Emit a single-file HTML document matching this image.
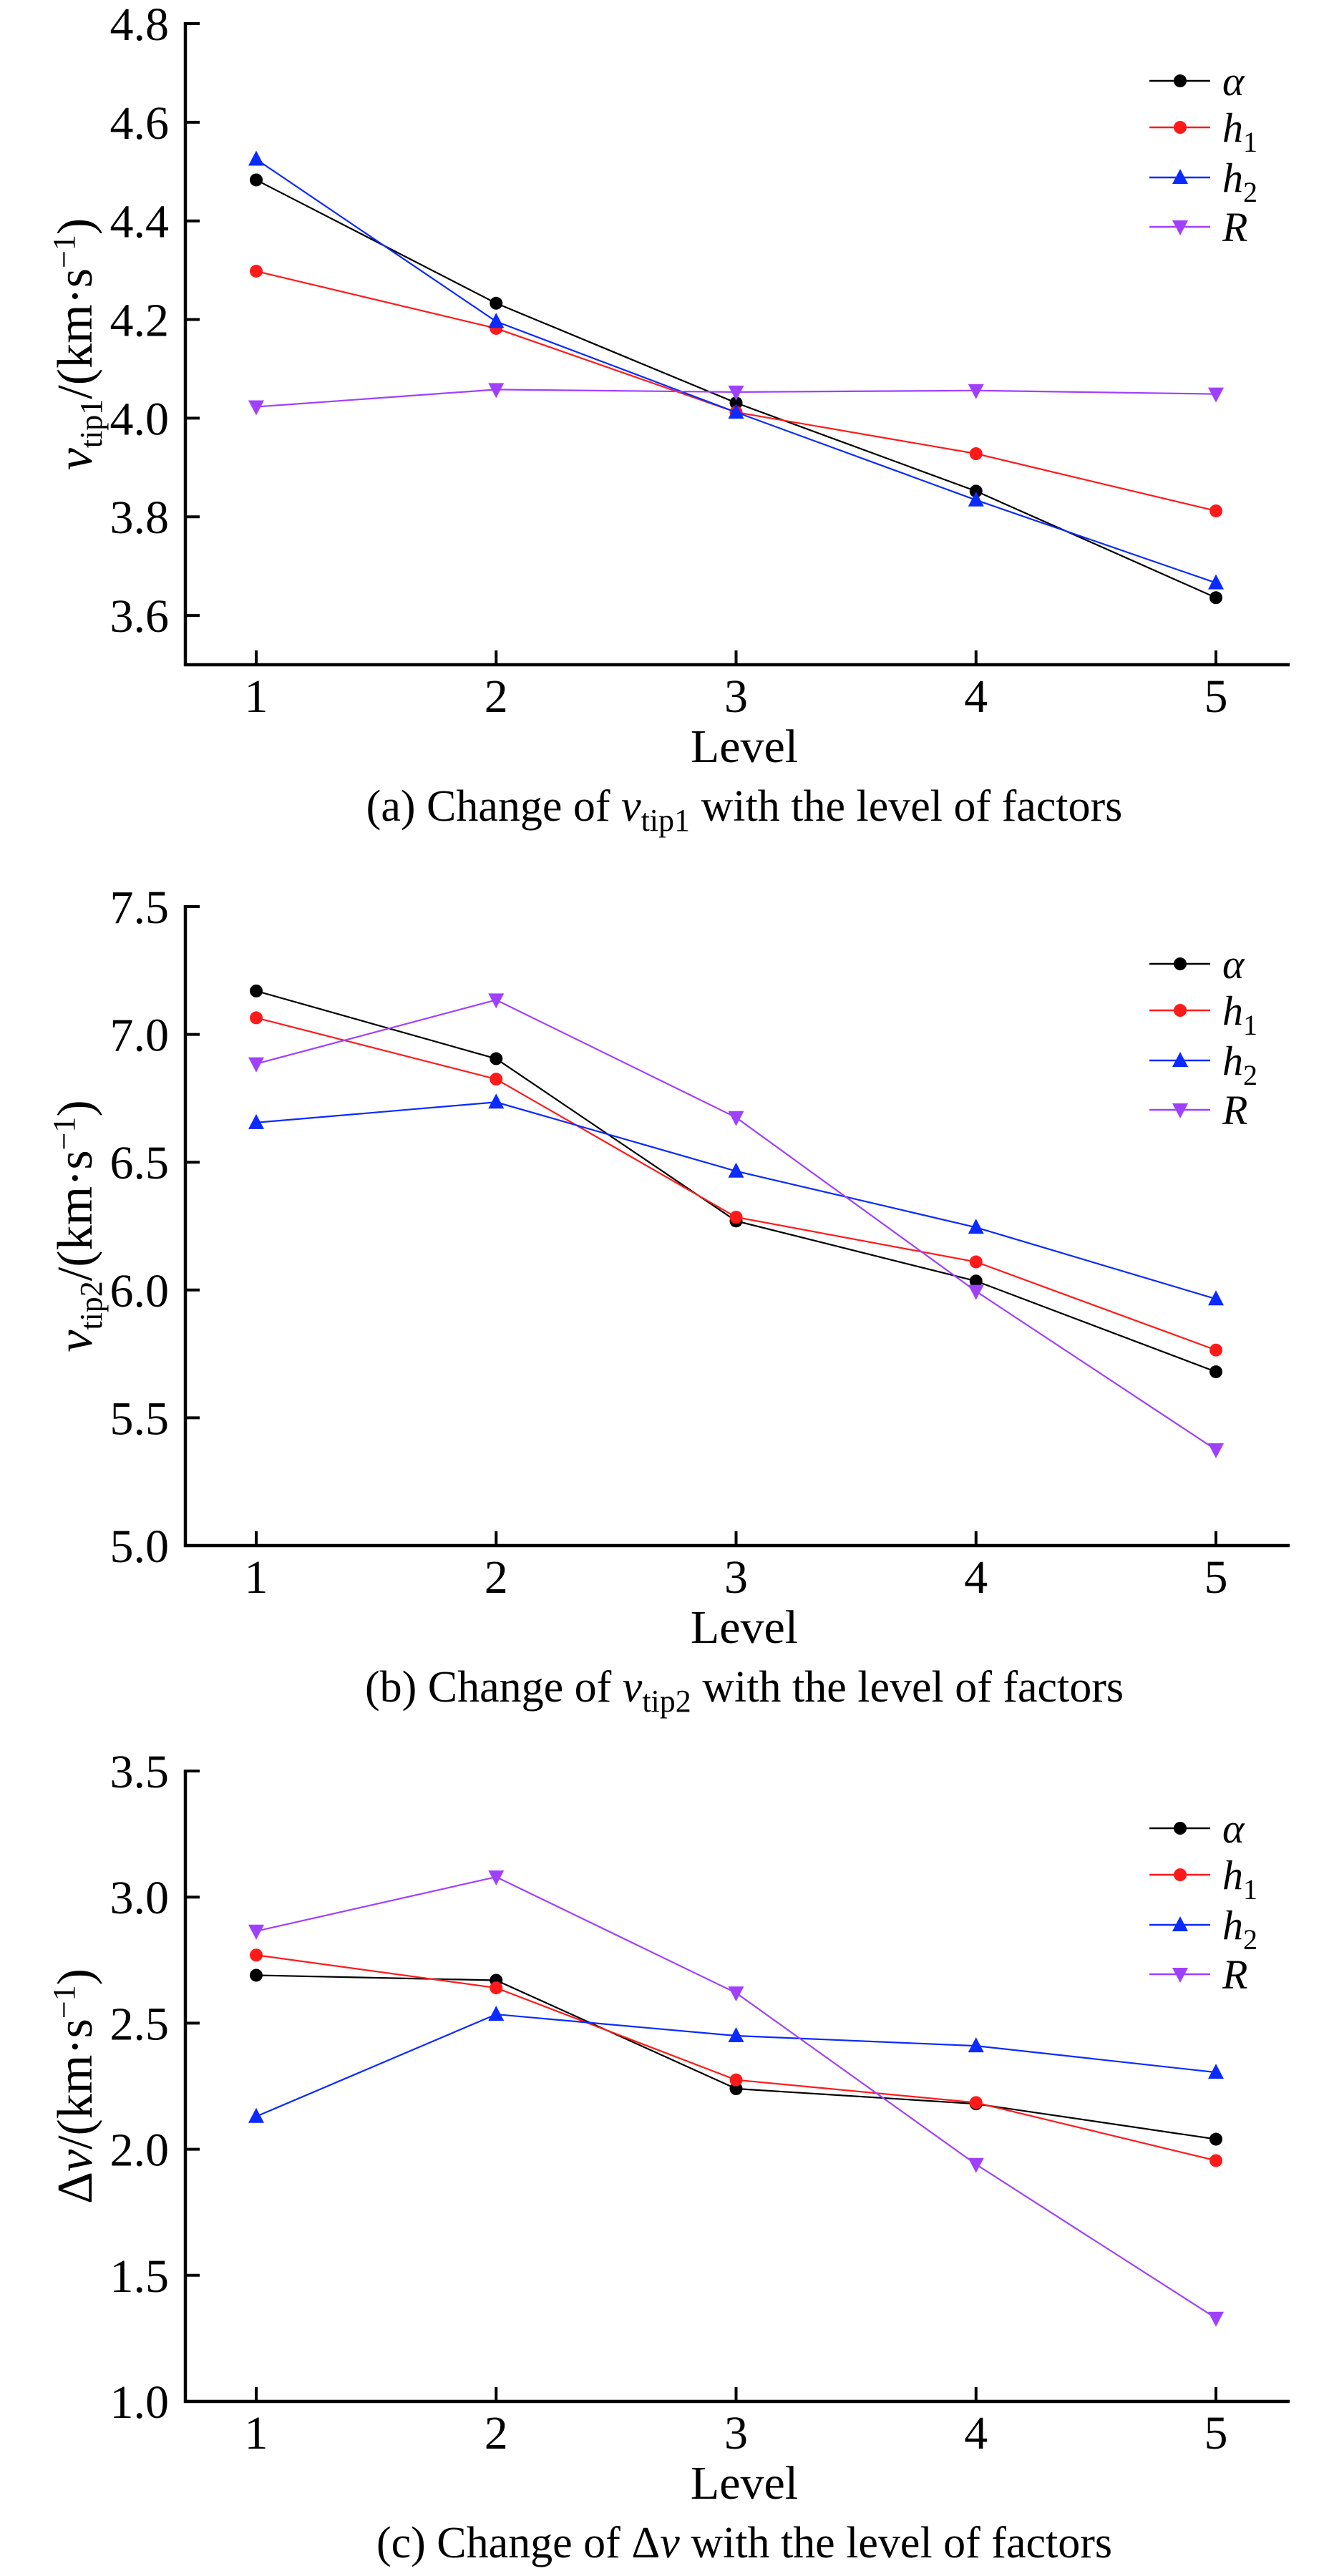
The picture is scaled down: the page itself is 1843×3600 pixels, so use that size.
<!DOCTYPE html>
<html><head><meta charset="utf-8"><style>
html,body{margin:0;padding:0;background:#fff;}
svg{display:block;font-family:"Liberation Serif",serif;}
text{font-family:"Liberation Serif",serif;}
</style></head><body>
<svg id="fig" width="1843" height="3600" viewBox="0 0 1843 3600" font-family="Liberation Serif, serif" xmlns="http://www.w3.org/2000/svg"></svg>
<script>
const levels = [1, 2, 3, 4, 5];
const seriesNames = ["alpha", "h1", "h2", "R"];
const seriesColors = ["#000000", "#ff1a1a", "#0a2aff", "#a040ff"];
const seriesMarkers = ["circle", "circle", "tri-up", "tri-down"];

const aAlpha = [4.483, 4.233, 4.031, 3.852, 3.636];
const aH1 = [4.298, 4.182, 4.012, 3.928, 3.812];
const aH2 = [4.525, 4.196, 4.012, 3.834, 3.666];
const aR = [4.023, 4.058, 4.053, 4.056, 4.049];
const aTicks = ["3.6", "3.8", "4.0", "4.2", "4.4", "4.6", "4.8"];

const bAlpha = [7.17, 6.905, 6.27, 6.035, 5.68];
const bH1 = [7.065, 6.825, 6.285, 6.11, 5.765];
const bH2 = [6.655, 6.735, 6.465, 6.245, 5.965];
const bR = [6.885, 7.135, 6.675, 5.995, 5.375];
const bTicks = ["5.0", "5.5", "6.0", "6.5", "7.0", "7.5"];

const cAlpha = [2.69, 2.67, 2.24, 2.18, 2.04];
const cH1 = [2.77, 2.64, 2.275, 2.185, 1.955];
const cH2 = [2.13, 2.535, 2.45, 2.41, 2.305];
const cR = [2.865, 3.08, 2.62, 1.94, 1.33];
const cTicks = ["1.0", "1.5", "2.0", "2.5", "3.0", "3.5"];

const NS = "http://www.w3.org/2000/svg";
const svg = document.getElementById("fig");
function el(tag, attrs, parent) {
  const e = document.createElementNS(NS, tag);
  for (const k in attrs) e.setAttribute(k, attrs[k]);
  (parent || svg).appendChild(e);
  return e;
}

function panel(key, top, bottom, yMin, yMax, ticks, data, ytitleParts, captionParts) {
  const g = el("g", {});
  
  
  const axX = 259, right = 1802, x1 = 358, dx = 335.25;
  const xs = v => x1 + (v - 1) * dx;
  const ys = v => bottom - (v - yMin) / (yMax - yMin) * (bottom - top);
  const yAxis = el("line", {x1: axX, y1: top - 2, x2: axX, y2: bottom + 2, stroke: "#000", "stroke-width": 4.5}, g);
  
  
  const xAxis = el("line", {x1: axX - 2, y1: bottom, x2: right, y2: bottom, stroke: "#000", "stroke-width": 4.5}, g);
  
  
  ticks.forEach(t => {
    const y = ys(parseFloat(t));
    el("line", {x1: axX, y1: y, x2: axX + 20, y2: y, stroke: "#000", "stroke-width": 4}, g);
    const tx = el("text", {x: 236, y: y + 23, "text-anchor": "end", "font-size": 66}, g);
    tx.textContent = t;
    
    
  });
  levels.forEach(l => {
    const x = xs(l);
    el("line", {x1: x, y1: bottom, x2: x, y2: bottom - 20, stroke: "#000", "stroke-width": 4}, g);
    const tx = el("text", {x: x, y: bottom + 66, "text-anchor": "middle", "font-size": 66}, g);
    tx.textContent = String(l);
    
    
  });
  const lv = el("text", {x: 1040, y: bottom + 136, "text-anchor": "middle", "font-size": 66}, g);
  lv.textContent = "Level";
  
  
  const yt = el("text", {transform: "translate(128," + ((top + bottom) / 2) + ") rotate(-90)", "text-anchor": "middle", "font-size": 70}, g);
  
  
  ytitleParts.forEach(p => {
    const s = el("tspan", p.a || {}, yt); s.textContent = p.t;
  });
  const cap = el("text", {x: 1040, y: bottom + 218, "text-anchor": "middle", "font-size": 62}, g);
  
  
  captionParts.forEach(p => {
    const s = el("tspan", p.a || {}, cap); s.textContent = p.t;
  });
  data.forEach((vals, si) => {
    const col = seriesColors[si];
    const pts = vals.map((v, i) => xs(levels[i]) + "," + ys(v)).join(" ");
    const pl = el("polyline", {points: pts, fill: "none", stroke: col, "stroke-width": 2.2}, g);
    
    
    vals.forEach((v, i) => {
      const m = marker(seriesMarkers[si], xs(levels[i]), ys(v), col, g);
      
      
    });
  });
  const offs = [80, 145, 215, 284];
  const labels = [[{t: "α"}], [{t: "h"}, {t: "1", a: {"font-size": 40, "font-style": "normal", dy: 14}}],
                  [{t: "h"}, {t: "2", a: {"font-size": 40, "font-style": "normal", dy: 14}}], [{t: "R"}]];
  seriesNames.forEach((n, si) => {
    const ly = top + offs[si];
    const lg = el("g", {}, g);
    
    
    el("line", {x1: 1606, y1: ly, x2: 1691, y2: ly, stroke: seriesColors[si], "stroke-width": 2.5}, lg);
    marker(seriesMarkers[si], 1649, ly, seriesColors[si], lg);
    const t = el("text", {x: 1708, y: ly + 20, "font-size": 58, "font-style": "italic"}, lg);
    labels[si].forEach(p => { const s = el("tspan", p.a || {}, t); s.textContent = p.t; });
  });
}
function marker(type, x, y, col, parent) {
  if (type === "circle") return el("circle", {cx: x, cy: y, r: 9, fill: col}, parent);
  if (type === "tri-up") return el("polygon", {points: (x - 11) + "," + (y + 9) + " " + (x + 11) + "," + (y + 9) + " " + x + "," + (y - 12), fill: col}, parent);
  return el("polygon", {points: (x - 11) + "," + (y - 9) + " " + (x + 11) + "," + (y - 9) + " " + x + "," + (y + 12), fill: col}, parent);
}
const sub = t => ({t: t, a: {"font-size": 44, dy: 14}});
const up = (t, dy) => ({t: t, a: {"font-size": 44, dy: dy}});
panel("a", 33, 929, 3.5, 4.8, aTicks, [aAlpha, aH1, aH2, aR],
  [{t: "v", a: {"font-style": "italic"}}, sub("tip1"), {t: "/(km·s", a: {dy: -14}}, up("−1", -24), {t: ")", a: {dy: 24}}],
  [{t: "(a) Change of "}, {t: "v", a: {"font-style": "italic"}}, sub("tip1"), {t: " with the level of factors", a: {dy: -14}}]);
panel("b", 1267, 2160, 5.0, 7.5, bTicks, [bAlpha, bH1, bH2, bR],
  [{t: "v", a: {"font-style": "italic"}}, sub("tip2"), {t: "/(km·s", a: {dy: -14}}, up("−1", -24), {t: ")", a: {dy: 24}}],
  [{t: "(b) Change of "}, {t: "v", a: {"font-style": "italic"}}, sub("tip2"), {t: " with the level of factors", a: {dy: -14}}]);
panel("c", 2475, 3356, 1.0, 3.5, cTicks, [cAlpha, cH1, cH2, cR],
  [{t: "Δ"}, {t: "v", a: {"font-style": "italic"}}, {t: "/(km·s"}, up("−1", -24), {t: ")", a: {dy: 24}}],
  [{t: "(c) Change of Δ"}, {t: "v", a: {"font-style": "italic"}}, {t: " with the level of factors"}]);
</script>
</body></html>
